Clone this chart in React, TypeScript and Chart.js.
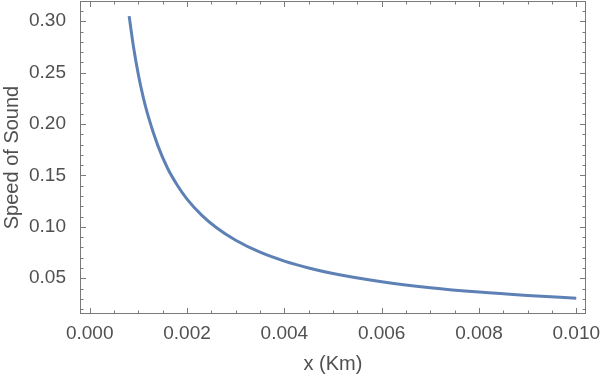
import React, { useEffect, useRef } from "react";
import { Chart, registerables } from "chart.js";

Chart.register(...registerables);

const xValues = [0.00081, 0.0009, 0.001, 0.0011, 0.0012, 0.0014, 0.0016, 0.0018, 0.002, 0.0023, 0.0026, 0.003, 0.0035, 0.004, 0.0045, 0.005, 0.006, 0.007, 0.008, 0.009, 0.01];
const speedValues = [0.305, 0.275, 0.248, 0.226, 0.208, 0.179, 0.157, 0.1405, 0.127, 0.1114, 0.0993, 0.0869, 0.0753, 0.0667, 0.06, 0.0546, 0.0466, 0.0408, 0.0365, 0.0332, 0.0305];
const xTickValues = [0, 0.002, 0.004, 0.006, 0.008, 0.01];
const yTickValues = [0.05, 0.1, 0.15, 0.2, 0.25, 0.3];
const xMinorStep = 0.0005;
const yMinorStep = 0.01;

const FONT = "'Liberation Sans', Arial, sans-serif";
const TEXT = "#505050";
const FRAME = "#7a7a7a";
const FS = 19;
const TFS = 20;

const framePlugin = {
  id: "mmaFrame",
  afterDatasetsDraw(chart: any) {
    const { ctx, chartArea: a, scales } = chart;
    const xs = scales.x;
    const ys = scales.y;
    ctx.save();
    ctx.strokeStyle = FRAME;
    ctx.lineWidth = 1;
    ctx.strokeRect(Math.round(a.left) + 0.5, Math.round(a.top) + 0.5, Math.round(a.right - a.left) - 1, Math.round(a.bottom - a.top) - 1);
    const major = 6;
    const minor = 3.5;
    const isMajor = (v: number, arr: number[]) => arr.some((t) => Math.abs(t - v) < 1e-9);
    ctx.beginPath();
    const xStart = Math.ceil(xs.min / xMinorStep);
    const xEnd = Math.floor(xs.max / xMinorStep);
    for (let i = xStart; i <= xEnd; i++) {
      const v = i * xMinorStep;
      const px = Math.round(xs.getPixelForValue(v)) + 0.5;
      const len = isMajor(v, xTickValues) ? major : minor;
      ctx.moveTo(px, a.bottom);
      ctx.lineTo(px, a.bottom - len);
      ctx.moveTo(px, a.top);
      ctx.lineTo(px, a.top + len);
    }
    const yStart = Math.ceil(ys.min / yMinorStep - 1e-9);
    const yEnd = Math.floor(ys.max / yMinorStep + 1e-9);
    for (let i = yStart; i <= yEnd; i++) {
      const v = i * yMinorStep;
      const py = Math.round(ys.getPixelForValue(v)) + 0.5;
      const len = isMajor(v, yTickValues) ? major : minor;
      ctx.moveTo(a.left, py);
      ctx.lineTo(a.left + len, py);
      ctx.moveTo(a.right, py);
      ctx.lineTo(a.right - len, py);
    }
    ctx.stroke();
    ctx.restore();
  },
};

export default function App() {
  const ref = useRef<HTMLCanvasElement | null>(null);
  useEffect(() => {
    if (!ref.current) return;
    const chart = new Chart(ref.current, {
      type: "line",
      data: {
        datasets: [
          {
            data: xValues.map((x, i) => ({ x, y: speedValues[i] })),
            borderColor: "#5E81B5",
            borderWidth: 3,
            pointRadius: 0,
            fill: false,
            cubicInterpolationMode: "monotone",
          },
        ],
      },
      options: {
        animation: false,
        responsive: false,
        maintainAspectRatio: false,
        layout: { padding: { top: 1, right: 15, left: 0, bottom: 0 } },
        plugins: { legend: { display: false }, tooltip: { enabled: false } },
        scales: {
          x: {
            type: "linear",
            min: -0.0002,
            max: 0.0102,
            grid: { display: false },
            border: { display: false },
            afterBuildTicks: (s: any) => {
              s.ticks = xTickValues.map((v) => ({ value: v }));
            },
            afterFit: (s: any) => {
              s.height = 64;
              s.paddingLeft = 0;
              s.paddingRight = 0;
            },
            ticks: {
              color: TEXT,
              font: { family: FONT, size: FS },
              padding: 0,
              maxRotation: 0,
              autoSkip: false,
              callback: (v: any) => Number(v).toFixed(3),
            },
            title: {
              display: true,
              text: "x (Km)",
              color: TEXT,
              font: { family: FONT, size: TFS },
              padding: { top: 0, bottom: 2 },
            },
          },
          y: {
            type: "linear",
            min: 0.0152,
            max: 0.3197,
            grid: { display: false },
            border: { display: false },
            afterBuildTicks: (s: any) => {
              s.ticks = yTickValues.map((v) => ({ value: v }));
            },
            afterFit: (s: any) => {
              s.width = 80;
              s.paddingTop = 0;
              s.paddingBottom = 0;
            },
            ticks: {
              color: TEXT,
              font: { family: FONT, size: FS },
              padding: 6,
              autoSkip: false,
              callback: (v: any) => Number(v).toFixed(2),
            },
            title: {
              display: true,
              text: "Speed of Sound",
              color: TEXT,
              font: { family: FONT, size: TFS },
              padding: { top: 0, bottom: 0 },
            },
          },
        },
      },
      plugins: [framePlugin],
    } as any);
    return () => chart.destroy();
  }, []);
  return (
    <div style={{ position: "fixed", left: 0, top: 0, width: 601, height: 378, background: "#fff" }}>
      <canvas ref={ref} width={601} height={378} style={{ width: 601, height: 378, display: "block" }} />
    </div>
  );
}
